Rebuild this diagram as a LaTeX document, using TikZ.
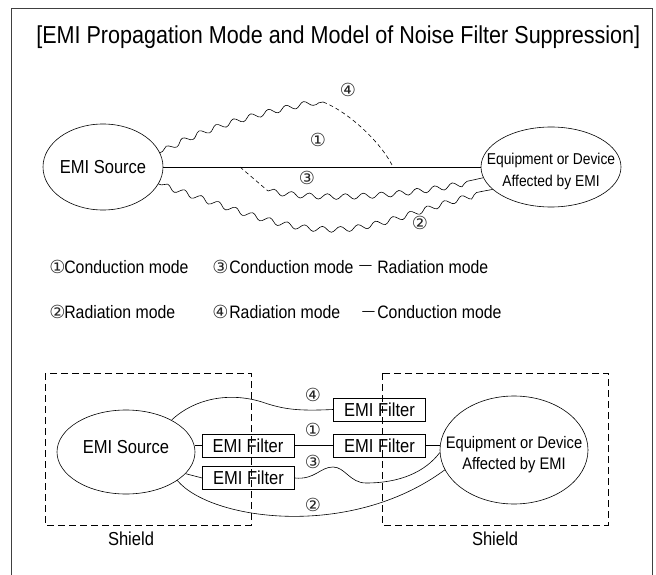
\documentclass[tikz,border=0pt]{standalone}
\usepackage{fontspec}
\setmainfont{Liberation Sans}[FakeStretch=0.88]
\newfontfamily\circfont{DejaVu Sans}
\usetikzlibrary{shapes.geometric, decorations.pathmorphing, positioning}
\newcommand{\circnum}[1]{{\circfont\fontsize{18}{18}\selectfont #1}}

\begin{document}
\begin{tikzpicture}[
    x=1pt, y=-1pt,
    line width=0.6pt,
    every node/.style={font=\fontsize{18.8}{20}\selectfont},
    blob/.style={ellipse, draw, inner sep=0pt},
    devtext/.style={align=center, inner sep=0pt, font=\fontsize{15.7}{22}\selectfont},
    filter/.style={rectangle, draw, minimum width=92pt, minimum height=23pt, inner sep=0pt},
    shield/.style={draw, dash pattern=on 7pt off 4pt, line width=0.8pt},
    wave/.style={decorate, decoration={snake, amplitude=2.8pt, segment length=18pt, pre length=3pt, post length=10pt}},
    link/.style={dash pattern=on 4pt off 3pt},
    num/.style={inner sep=0pt, text=black!85},
    legend/.style={anchor=base west, inner sep=0pt, font=\fontsize{18}{20}\selectfont},
    frame/.style={line width=0.9pt, black!75}
]
\useasboundingbox (0,0) rectangle (656,575);

% Frame and title
\draw[frame] (11,575) -- (11,8) -- (652,8) -- (652,575);
\node[legend, font=\fontsize{24.5}{26}\selectfont] (title) at (36,44) {[EMI Propagation Mode and Model of Noise Filter Suppression]};

% Propagation model
\node[blob, minimum width=120pt, minimum height=86pt] (src) at (103,167) {};
\node[inner sep=0pt] (srctxt) at (src.center) {EMI Source};
\node[blob, minimum width=140pt, minimum height=80pt] (dev) at (551,167) {};
\node[devtext] (devtxt) at (551,171) {Equipment or Device\\Affected by EMI};

\coordinate (k3) at (240,167);
\coordinate (w3) at (268,191);
\coordinate (k4) at (393,167);
\coordinate (w4) at (323,102);

\draw (src.east) -- (dev.west);
\draw[wave, decoration={post length=0pt}] (src.14) .. controls (210,125) and (270,112) .. (w4);
\draw[link] (w4) .. controls (345,110) and (380,140) .. (k4);
\draw[link] (k3) -- (w3);
\draw[wave, decoration={pre length=0pt}] (w3) .. controls (320,200) and (400,197) .. (dev.189);
\draw[wave] (src.-17) .. controls (250,215) and (280,228) .. (330,228) .. controls (380,228) and (430,200) .. (dev.201);

\node[num] (t4) at (348,90) {\circnum{④}};
\node[num] (t1) at (318,140) {\circnum{①}};
\node[num] (t3) at (307,178) {\circnum{③}};
\node[num] (t2) at (420,223) {\circnum{②}};

% Legend
\node[num] (n1) at (57.5,267) {\circnum{①}};
\node[legend] (m1) at (64,273) {Conduction mode};
\node[num] (n3) at (220.5,267) {\circnum{③}};
\node[legend] (m3) at (229,273) {Conduction mode};
\node[legend, font=\fontsize{14}{14}\selectfont] (d3) at (359,269) {—};
\node[legend] (r3) at (377,273) {Radiation mode};
\node[num] (n2) at (57.5,312) {\circnum{②}};
\node[legend] (m2) at (64,318) {Radiation mode};
\node[num] (n4) at (220.5,312) {\circnum{④}};
\node[legend] (m4) at (229,318) {Radiation mode};
\node[legend, font=\fontsize{14}{14}\selectfont] (d4) at (362,315) {—};
\node[legend] (c4) at (377,318) {Conduction mode};

% Suppression model
\draw[shield] (45,373) rectangle (251,525);
\draw[shield] (382,373) rectangle (608,525);
\node (sh1) at (131,539) {Shield};
\node (sh2) at (495,539) {Shield};

\node[blob, minimum width=138pt, minimum height=84pt] (src2) at (126,452) {};
\node[inner sep=0pt] (srctxt2) at (126,447) {EMI Source};
\node[blob, minimum width=148pt, minimum height=108pt] (dev2) at (514,450) {};
\node[devtext, font=\fontsize{16.7}{21}\selectfont] (devtxt2) at (514,455) {Equipment or Device\\Affected by EMI};

\node[filter] (f1) at (248,445.5) {EMI Filter};
\node[filter] (f3) at (248.5,478) {EMI Filter};
\node[filter] (f2) at (379.5,445.5) {EMI Filter};
\node[filter] (f4) at (379.5,409.5) {EMI Filter};

\draw (f1.west) -- (f1.west -| src2.east);
\draw (f1) -- (f2);
\draw (f2.east) -- (f2.east -| dev2.west);
\draw (src2.-20) -- (f3.west);
\draw (f3.east) .. controls (315,480) and (320,467) .. (333,467) .. controls (345,467) and (350,483) .. (366,483) .. controls (400,483) and (425,472) .. (dev2.182);
\draw (src2.35) .. controls (195,398) and (230,392) .. (262,402) .. controls (285,410) and (300,411) .. (f4.west);
\draw (src2.-29) .. controls (210,520) and (350,540) .. (dev2.196);

\node[num] (b4) at (313,395) {\circnum{④}};
\node[num] (b1) at (313,430) {\circnum{①}};
\node[num] (b3) at (313,462) {\circnum{③}};
\node[num] (b2) at (313,505) {\circnum{②}};

\end{tikzpicture}
\end{document}
